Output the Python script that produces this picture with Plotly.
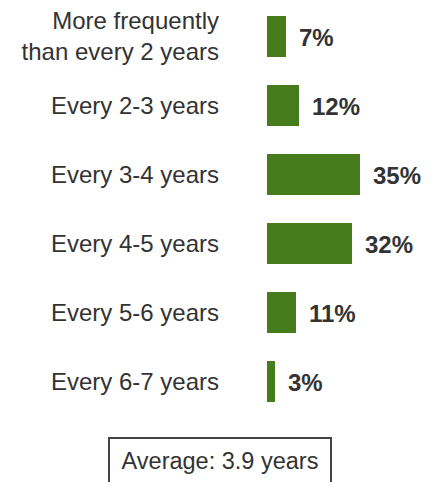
import plotly.graph_objects as go

categories = ["More frequently<br>than every 2 years", "Every 2-3 years", "Every 3-4 years",
              "Every 4-5 years", "Every 5-6 years", "Every 6-7 years"]
values = [7, 12, 35, 32, 11, 3]
average_text = "Average: 3.9 years"

W, H = 437, 482
ML, MR, MT, MB = 267, 0, 2, 66
plot_h = H - MT - MB
plot_w = W - ML - MR

bar_color = "#477c1c"
text_color = "#333333"
font_family = "Liberation Sans, Arial, Helvetica, sans-serif"

fig = go.Figure(go.Bar(
    x=values, y=categories, orientation="h",
    marker=dict(color=bar_color, line=dict(width=0)),
    width=0.58, hoverinfo="skip",
))

for v, c in zip(values, categories):
    fig.add_annotation(x=v, y=c, xref="x", yref="y", text=f"<b>{v}%</b>",
                       showarrow=False, xanchor="left", xshift=11, yshift=-1,
                       font=dict(size=24, color=text_color, family=font_family))

# average box
box_cx = 220
box_top = 437
fig.add_annotation(
    x=(box_cx - ML) / plot_w, y=(H - MB - box_top) / plot_h,
    xref="paper", yref="paper", xanchor="center", yanchor="top",
    text=average_text, showarrow=False,
    width=214, height=38, borderpad=3, borderwidth=2, bordercolor="#444444",
    bgcolor="white", align="center", valign="middle",
    font=dict(size=23.5, color=text_color, family=font_family),
)

fig.update_layout(
    width=W, height=H, margin=dict(l=ML, r=MR, t=MT, b=MB, pad=0),
    plot_bgcolor="white", paper_bgcolor="white", showlegend=False,
    font=dict(family=font_family, color=text_color, size=24),
    bargap=0,
)
fig.update_xaxes(range=[0, plot_w / 2.65], visible=False, fixedrange=True)
fig.update_yaxes(autorange="reversed", showgrid=False, showline=False, zeroline=False,
                 ticks="", ticklabelstandoff=47, tickfont=dict(size=24, color=text_color),
                 fixedrange=True)

fig.write_html("out.html", config=dict(displayModeBar=False),
               post_script="document.body.style.margin='0px';")
